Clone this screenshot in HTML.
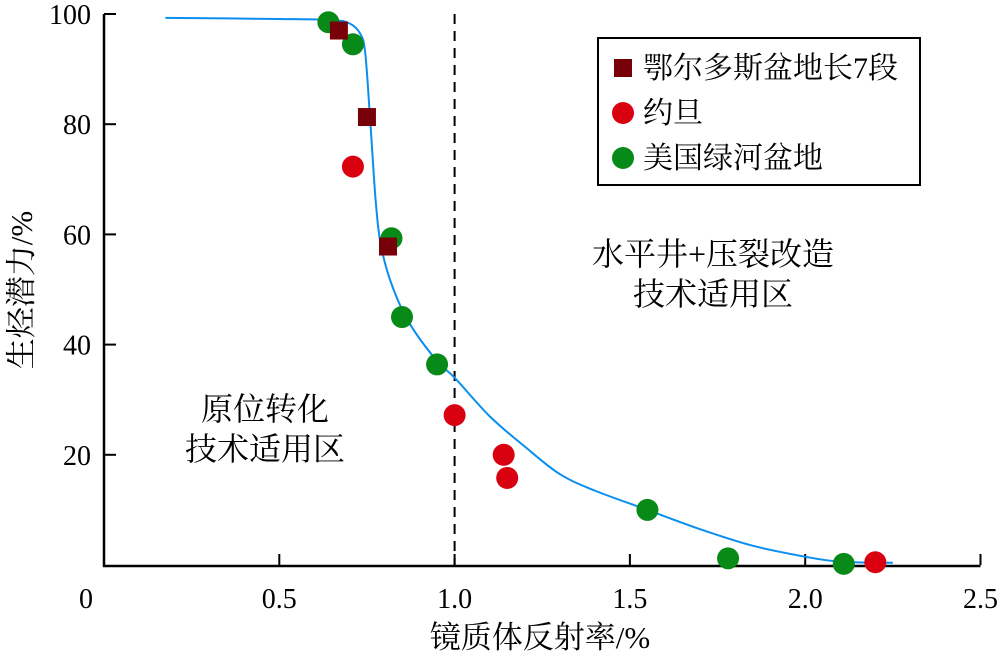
<!DOCTYPE html>
<html><head><meta charset="utf-8"><style>
body{margin:0;background:#fff}
svg text{font-family:"Liberation Serif","Noto Serif CJK SC","Noto Sans CJK SC",serif;fill:#000}
</style></head><body>
<svg id="c" width="1000" height="658" xmlns="http://www.w3.org/2000/svg"></svg>
<script>
const xTicks=[0,0.5,1.0,1.5,2.0,2.5];
const xTickLabels=["0","0.5","1.0","1.5","2.0","2.5"];
const yTicks=[20,40,60,80,100];
const yTickLabels=["20","40","60","80","100"];
const curveX=[0.175,0.5,0.65,0.70,0.73,0.745,0.76,0.775,0.79,0.82,0.87,0.95,1.0,1.1,1.2,1.3,1.4,1.55,1.7,1.85,2.0,2.1,2.25];
const curveY=[99.3,99.1,98.9,98.3,96.5,93,80,66,58,51,44,37,34,27,21.5,16.5,13.5,10,6.5,3.5,1.5,0.6,0.4];
const ordosX=[0.67,0.75,0.81];
const ordosY=[97,81.3,57.8];
const jordanX=[0.71,1.0,1.14,1.15,2.2];
const jordanY=[72.3,27.2,20,15.8,0.5];
const greenX=[0.64,0.71,0.82,0.85,0.95,1.55,1.78,2.11];
const greenY=[98.5,94.5,59.3,45,36.4,10,1.2,0.2];
const cutoff=1.0;

const svg=document.getElementById('c');
const NS='http://www.w3.org/2000/svg';
const X=v=>104+v*350.6, Y=v=>565-v*5.51;
function mk(t,a,p){const e=document.createElementNS(NS,t);for(const k in a)e.setAttribute(k,a[k]);(p||svg).appendChild(e);return e;}
function txt(s,x,y,size,anchor){const e=mk('text',{x:x,y:y,'font-size':size,'text-anchor':anchor||'middle'});e.textContent=s;return e;}

let e=mk('path',{d:`M${X(0)},${Y(100)}V${Y(0)+1}H${X(2.5)}`,fill:'none',stroke:'#000','stroke-width':2.5});


xTicks.forEach((v,i)=>{
  if(i>0){const t=mk('line',{x1:X(v),x2:X(v),y1:Y(0),y2:Y(0)-11,stroke:'#000','stroke-width':2});
  
  }
  const l=txt(xTickLabels[i],i==0?X(v)-18:X(v),608,28);
  
  
});
yTicks.forEach((v,i)=>{
  const t=mk('line',{x1:X(0),x2:X(0)+12,y1:Y(v),y2:Y(v),stroke:'#000','stroke-width':2});
  
  
  const l=txt(yTickLabels[i],91,Y(v)+10,28,'end');
  
  
});
e=txt('镜质体反射率/%',540,648,31);


e=txt('生烃潜力/%',0,0,31);
e.setAttribute('transform','translate(32,290) rotate(-90)');



e=mk('line',{x1:X(cutoff),x2:X(cutoff),y1:Y(100),y2:Y(0),stroke:'#000','stroke-width':2,'stroke-dasharray':'10,7'});



const P=curveX.map((v,i)=>[X(v),Y(curveY[i])]);
let d=`M${P[0][0]},${P[0][1]}`;
for(let i=0;i<P.length-1;i++){
  const p0=P[Math.max(0,i-1)],p1=P[i],p2=P[i+1],p3=P[Math.min(P.length-1,i+2)];
  const c1=[p1[0]+(p2[0]-p0[0])/6,p1[1]+(p2[1]-p0[1])/6];
  const c2=[p2[0]-(p3[0]-p1[0])/6,p2[1]-(p3[1]-p1[1])/6];
  d+=`C${c1[0]},${c1[1]} ${c2[0]},${c2[1]} ${p2[0]},${p2[1]}`;
}
e=mk('path',{d:d,fill:'none',stroke:'#0a8ff0','stroke-width':2});



greenX.forEach((v,i)=>{const c=mk('circle',{cx:X(v),cy:Y(greenY[i]),r:11,fill:'#078a18'});

});
jordanX.forEach((v,i)=>{const c=mk('circle',{cx:X(v),cy:Y(jordanY[i]),r:11,fill:'#d90010'});

});
ordosX.forEach((v,i)=>{const c=mk('rect',{x:X(v)-9,y:Y(ordosY[i])-9,width:18,height:18,fill:'#780008'});

});

const g=mk('g',{});


mk('rect',{x:598,y:38,width:322,height:147,fill:'#fff',stroke:'#000','stroke-width':2},g);
mk('rect',{x:614,y:59,width:18,height:18,fill:'#780008'},g);
mk('circle',{cx:623,cy:113,r:11,fill:'#d90010'},g);
mk('circle',{cx:623,cy:158,r:11,fill:'#078a18'},g);
[['鄂尔多斯盆地长7段',68],['约旦',113],['美国绿河盆地',158]].forEach(a=>{
  const t=txt(a[0],643,a[1]+10,30,'start');
  
  
  g.appendChild(t);
});

[['水平井+压裂改造',713,265],['技术适用区',713,305],['原位转化',265,420],['技术适用区',265,460]].forEach(a=>{
  const t=txt(a[0],a[1],a[2],32);
  
  
});
</script>
</body></html>
